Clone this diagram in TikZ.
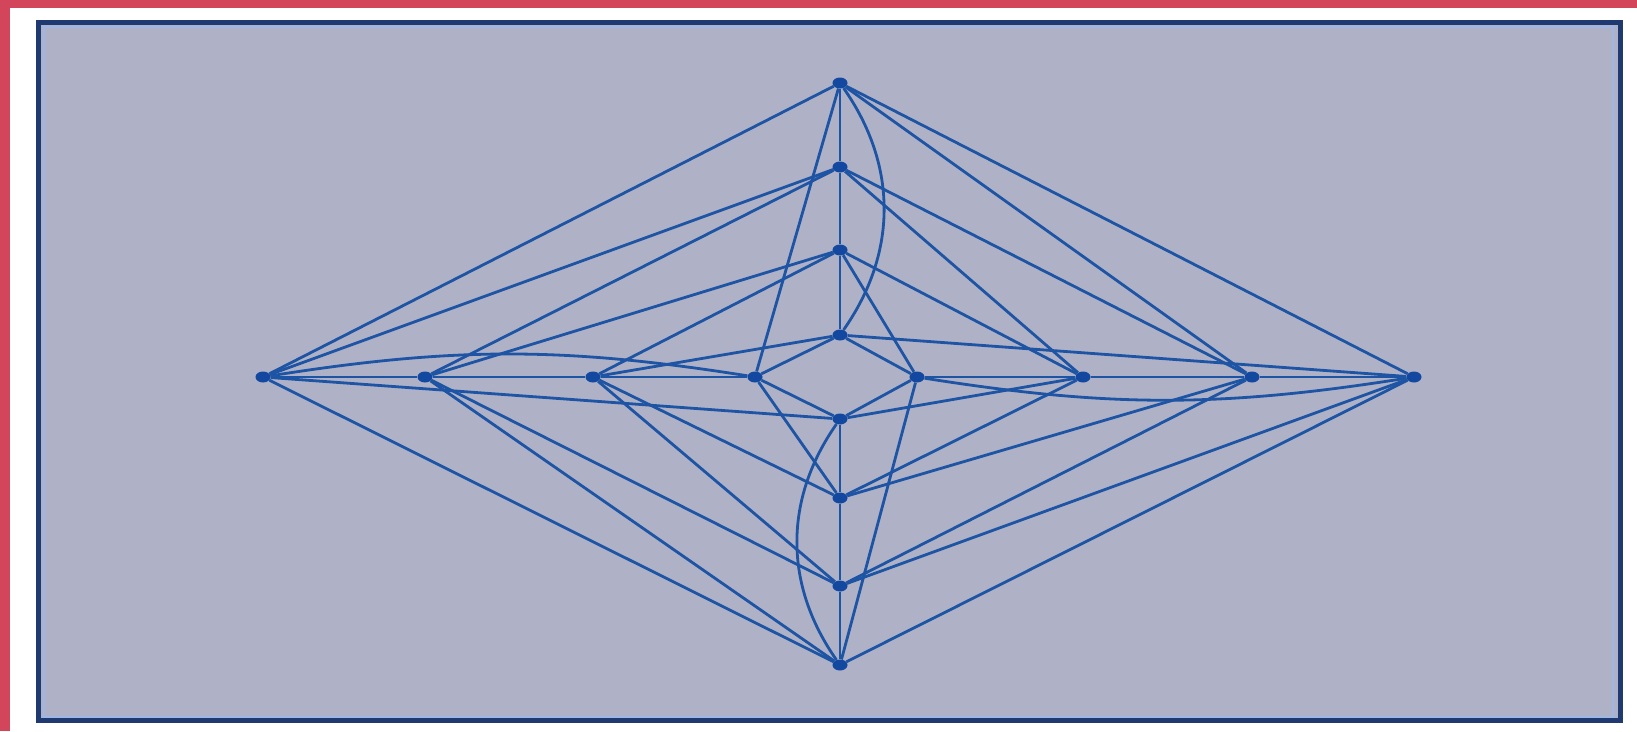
\documentclass[tikz,border=0pt]{standalone}
\usetikzlibrary{shapes.geometric}
\definecolor{redband}{RGB}{211,69,90}
\definecolor{navy}{RGB}{30,58,112}
\definecolor{lightrim}{RGB}{160,182,228}
\definecolor{bgfill}{RGB}{175,177,199}
\definecolor{edgeblue}{RGB}{30,84,164}
\definecolor{dotblue}{RGB}{18,72,160}
\begin{document}
\begin{tikzpicture}[x=1pt,y=-1pt,
  vtx/.style={ellipse, fill=dotblue, inner sep=0pt, minimum width=15pt, minimum height=11pt},
  conn/.style={draw=edgeblue, line width=2.8pt}]
\useasboundingbox (0,0) rectangle (1637,731);
\fill[white] (0,0) rectangle (1637,731);
\fill[redband] (0,0) rectangle (1637,8);
\fill[redband] (0,0) rectangle (10,731);
\fill[bgfill] (37,22) rectangle (1621,721);
\draw[lightrim, line width=2.5pt] (44,27) rectangle (1613,717);
\draw[navy, line width=5pt] (38.5,22.5) rectangle (1620,720.5);
\draw[navy, line width=3pt] (39.5,22) -- (39.5,721);
% vertices
\node[vtx] (L1) at (263,377) {};
\node[vtx] (L2) at (425,377) {};
\node[vtx] (L3) at (593,377) {};
\node[vtx] (L4) at (755,377) {};
\node[vtx] (R4) at (917,377) {};
\node[vtx] (R3) at (1083,377) {};
\node[vtx] (R2) at (1252,377) {};
\node[vtx] (R1) at (1414,377) {};
\node[vtx] (T1) at (840,83) {};
\node[vtx] (T2) at (840,167) {};
\node[vtx] (T3) at (840,250) {};
\node[vtx] (T4) at (840,335) {};
\node[vtx] (B4) at (840,419) {};
\node[vtx] (B3) at (840,498) {};
\node[vtx] (B2) at (840,586) {};
\node[vtx] (B1) at (840,665) {};
% chains
\draw[conn] (L1) -- (L2) -- (L3) -- (L4);
\draw[conn] (R4) -- (R3) -- (R2) -- (R1);
\draw[conn] (T1) -- (T2) -- (T3) -- (T4);
\draw[conn] (B4) -- (B3) -- (B2) -- (B1);
% arcs
\draw[conn] (L1) to[bend left=9] (L4);
\draw[conn] (R4) to[bend right=9] (R1);
\draw[conn] (T1) to[bend left=35] (T4);
\draw[conn] (B4) to[bend right=35] (B1);
% top-left
\draw[conn] (L1) -- (T1); \draw[conn] (L1) -- (T2);
\draw[conn] (L2) -- (T2); \draw[conn] (L2) -- (T3);
\draw[conn] (L3) -- (T3); \draw[conn] (L3) -- (T4);
\draw[conn] (L4) -- (T4); \draw[conn] (L4) -- (T1);
% top-right
\draw[conn] (T1) -- (R1); \draw[conn] (T1) -- (R2);
\draw[conn] (T2) -- (R2); \draw[conn] (T2) -- (R3);
\draw[conn] (T3) -- (R3); \draw[conn] (T3) -- (R4);
\draw[conn] (T4) -- (R4); \draw[conn] (T4) -- (R1);
% bottom-left
\draw[conn] (L1) -- (B1); \draw[conn] (L2) -- (B1);
\draw[conn] (L2) -- (B2); \draw[conn] (L3) -- (B2);
\draw[conn] (L3) -- (B3); \draw[conn] (L4) -- (B3);
\draw[conn] (L4) -- (B4); \draw[conn] (L1) -- (B4);
% bottom-right
\draw[conn] (R1) -- (B1); \draw[conn] (R1) -- (B2);
\draw[conn] (R2) -- (B2); \draw[conn] (R2) -- (B3);
\draw[conn] (R3) -- (B3); \draw[conn] (R3) -- (B4);
\draw[conn] (R4) -- (B4); \draw[conn] (R4) -- (B1);
\end{tikzpicture}
\end{document}
